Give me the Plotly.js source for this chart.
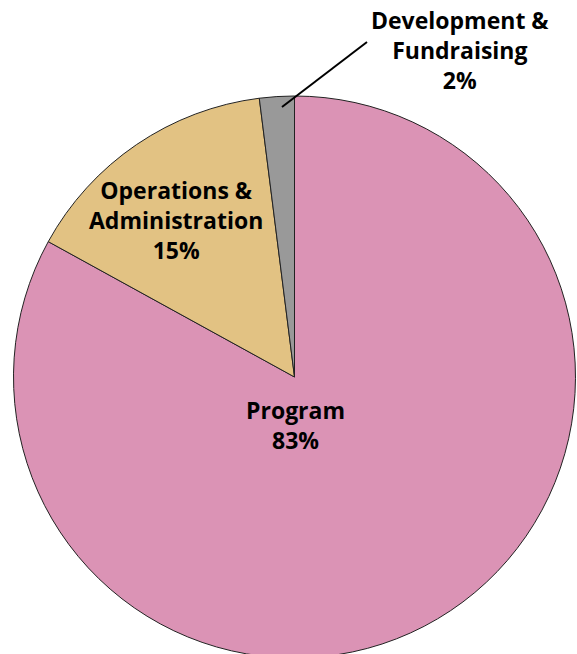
<!DOCTYPE html>
<html>
<head>
<meta charset="utf-8">
<script src="https://cdn.plot.ly/plotly-3.0.1.min.js"></script>
<style>
html, body { margin: 0; padding: 0; overflow: hidden; background: #fff; }
#chart { width: 577px; height: 700px; }
</style>
</head>
<body>
<div id="chart"></div>
<script>
// Data
const categories = ['Program', 'Operations & Administration', 'Development & Fundraising'];
const shares = [83, 15, 2];
const sliceColors = ['#DB93B5', '#E2C283', '#999999'];

// Layout helpers (pixel -> paper coordinates)
const W = 577, H = 700;
const px = x => x / W;
const py = y => (H - y) / H;

// Label positions (pixels, layout only)
const labelPos = [[295, 425], [176, 220], [460, 50]];

const trace = {
  type: 'pie',
  labels: categories,
  values: shares,
  sort: false,
  direction: 'clockwise',
  rotation: 0,
  textinfo: 'none',
  hoverinfo: 'label+percent',
  marker: { colors: sliceColors, line: { color: '#222', width: 1 } },
  domain: { x: [px(13.5), px(575.5)], y: [py(658), py(96)] },
  showlegend: false
};

const annotations = categories.map((c, i) => ({
  xref: 'paper', yref: 'paper',
  x: px(labelPos[i][0]), y: py(labelPos[i][1]),
  xanchor: 'center', yanchor: 'middle',
  text: '<b>' + c.replace(' & ', ' &amp;<br>') + '<br>' + shares[i] + '%</b>',
  showarrow: false,
  font: { family: 'Open Sans, sans-serif', size: 23, color: '#000' }
}));

const layout = {
  width: W, height: H,
  margin: { l: 0, r: 0, t: 0, b: 0 },
  paper_bgcolor: '#fff',
  annotations: annotations,
  shapes: [{
    type: 'line', xref: 'paper', yref: 'paper',
    x0: px(282), y0: py(107), x1: px(367), y1: py(42),
    line: { color: '#000', width: 2 }
  }]
};

Plotly.newPlot('chart', [trace], layout, { displayModeBar: false, staticPlot: true });
</script>
</body>
</html>
